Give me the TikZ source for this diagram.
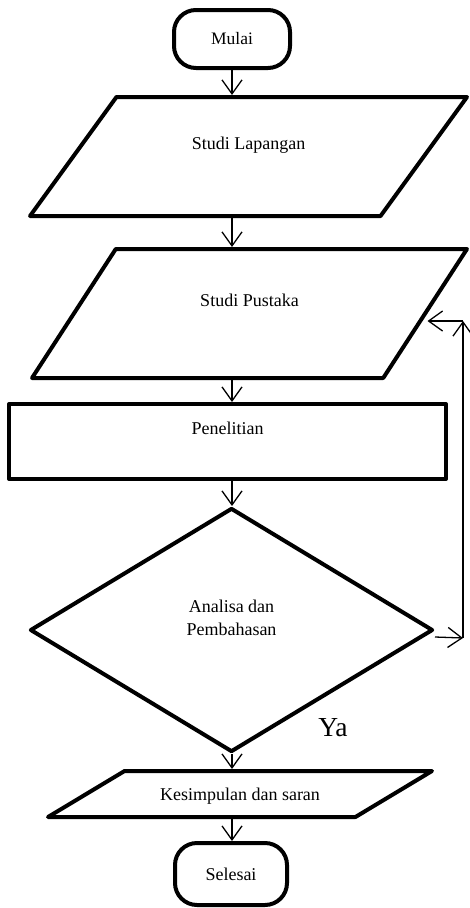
\documentclass[tikz,border=0pt]{standalone}
\usepackage{fontspec}
\setmainfont{Liberation Serif}
\usetikzlibrary{shapes.geometric,arrows.meta}

\begin{document}
\begin{tikzpicture}[x=1pt, y=-1pt,
  >={Straight Barb[length=14pt,width=20pt]},
  every node/.style={font=\fontsize{18}{23}\selectfont},
  bloc/.style={draw, line width=4pt, line join=round},
  terminal/.style={bloc, rectangle, rounded corners=22pt},
  donnee/.style={bloc, trapezium, trapezium stretches body=true, inner sep=0pt},
  haut/.style={text height=13pt, text depth=27pt},
  fleche/.style={->, line width=1.3pt}]
  \useasboundingbox (0,0) rectangle (470,908);

  % Début et fin
  \node[terminal, minimum width=116pt, minimum height=58pt, font=\fontsize{17.5}{21}\selectfont] (mulai) at (232,39) {Mulai};
  \node[terminal, minimum width=112pt, minimum height=62pt] (sel) at (231,874) {Selesai};

  % Étapes
  \node[donnee, trapezium left angle=54, trapezium right angle=126, text height=52.3pt, text depth=66.7pt, minimum width=437pt] (lap) at (248.5,156.5) {Studi Lapangan};
  \node[donnee, trapezium left angle=57, trapezium right angle=123, text height=57.3pt, text depth=71.7pt, minimum width=435pt] (pus) at (249.5,313.5) {Studi Pustaka};
  \node[bloc, rectangle, haut, minimum width=437pt, minimum height=75pt] (pen) at (227.5,441.5) {Penelitian};
  \node[bloc, diamond, aspect=1.65, align=center, text height=13pt, text depth=3pt, minimum width=403pt, minimum height=244pt] (ana) at (231.5,630) {Analisa dan\\Pembahasan};
  \node[donnee, trapezium left angle=31, trapezium right angle=149, text height=29pt, text depth=17pt, minimum width=384pt] (kes) at (240,794) {Kesimpulan dan saran};

  % Flèches principales
  \foreach \a/\b in {mulai/lap, lap/pus, pus/pen, pen/ana, ana/kes, kes/sel}
    \draw[fleche] (\a.south -| mulai) -- (\b.north -| mulai);

  % Retour
  \coordinate (retourbas) at (463,638);
  \coordinate (retourhaut) at (463,321);
  \draw[fleche] ([yshift=-7pt]ana.east) -- (retourbas);
  \draw[fleche] (retourbas) -- (retourhaut);
  \draw[fleche] (retourhaut) -- (retourhaut -| pus.right side);

  \node[font=\fontsize{27.5}{33}\selectfont] (ya) at (333,728) {Ya};
\end{tikzpicture}
\end{document}
